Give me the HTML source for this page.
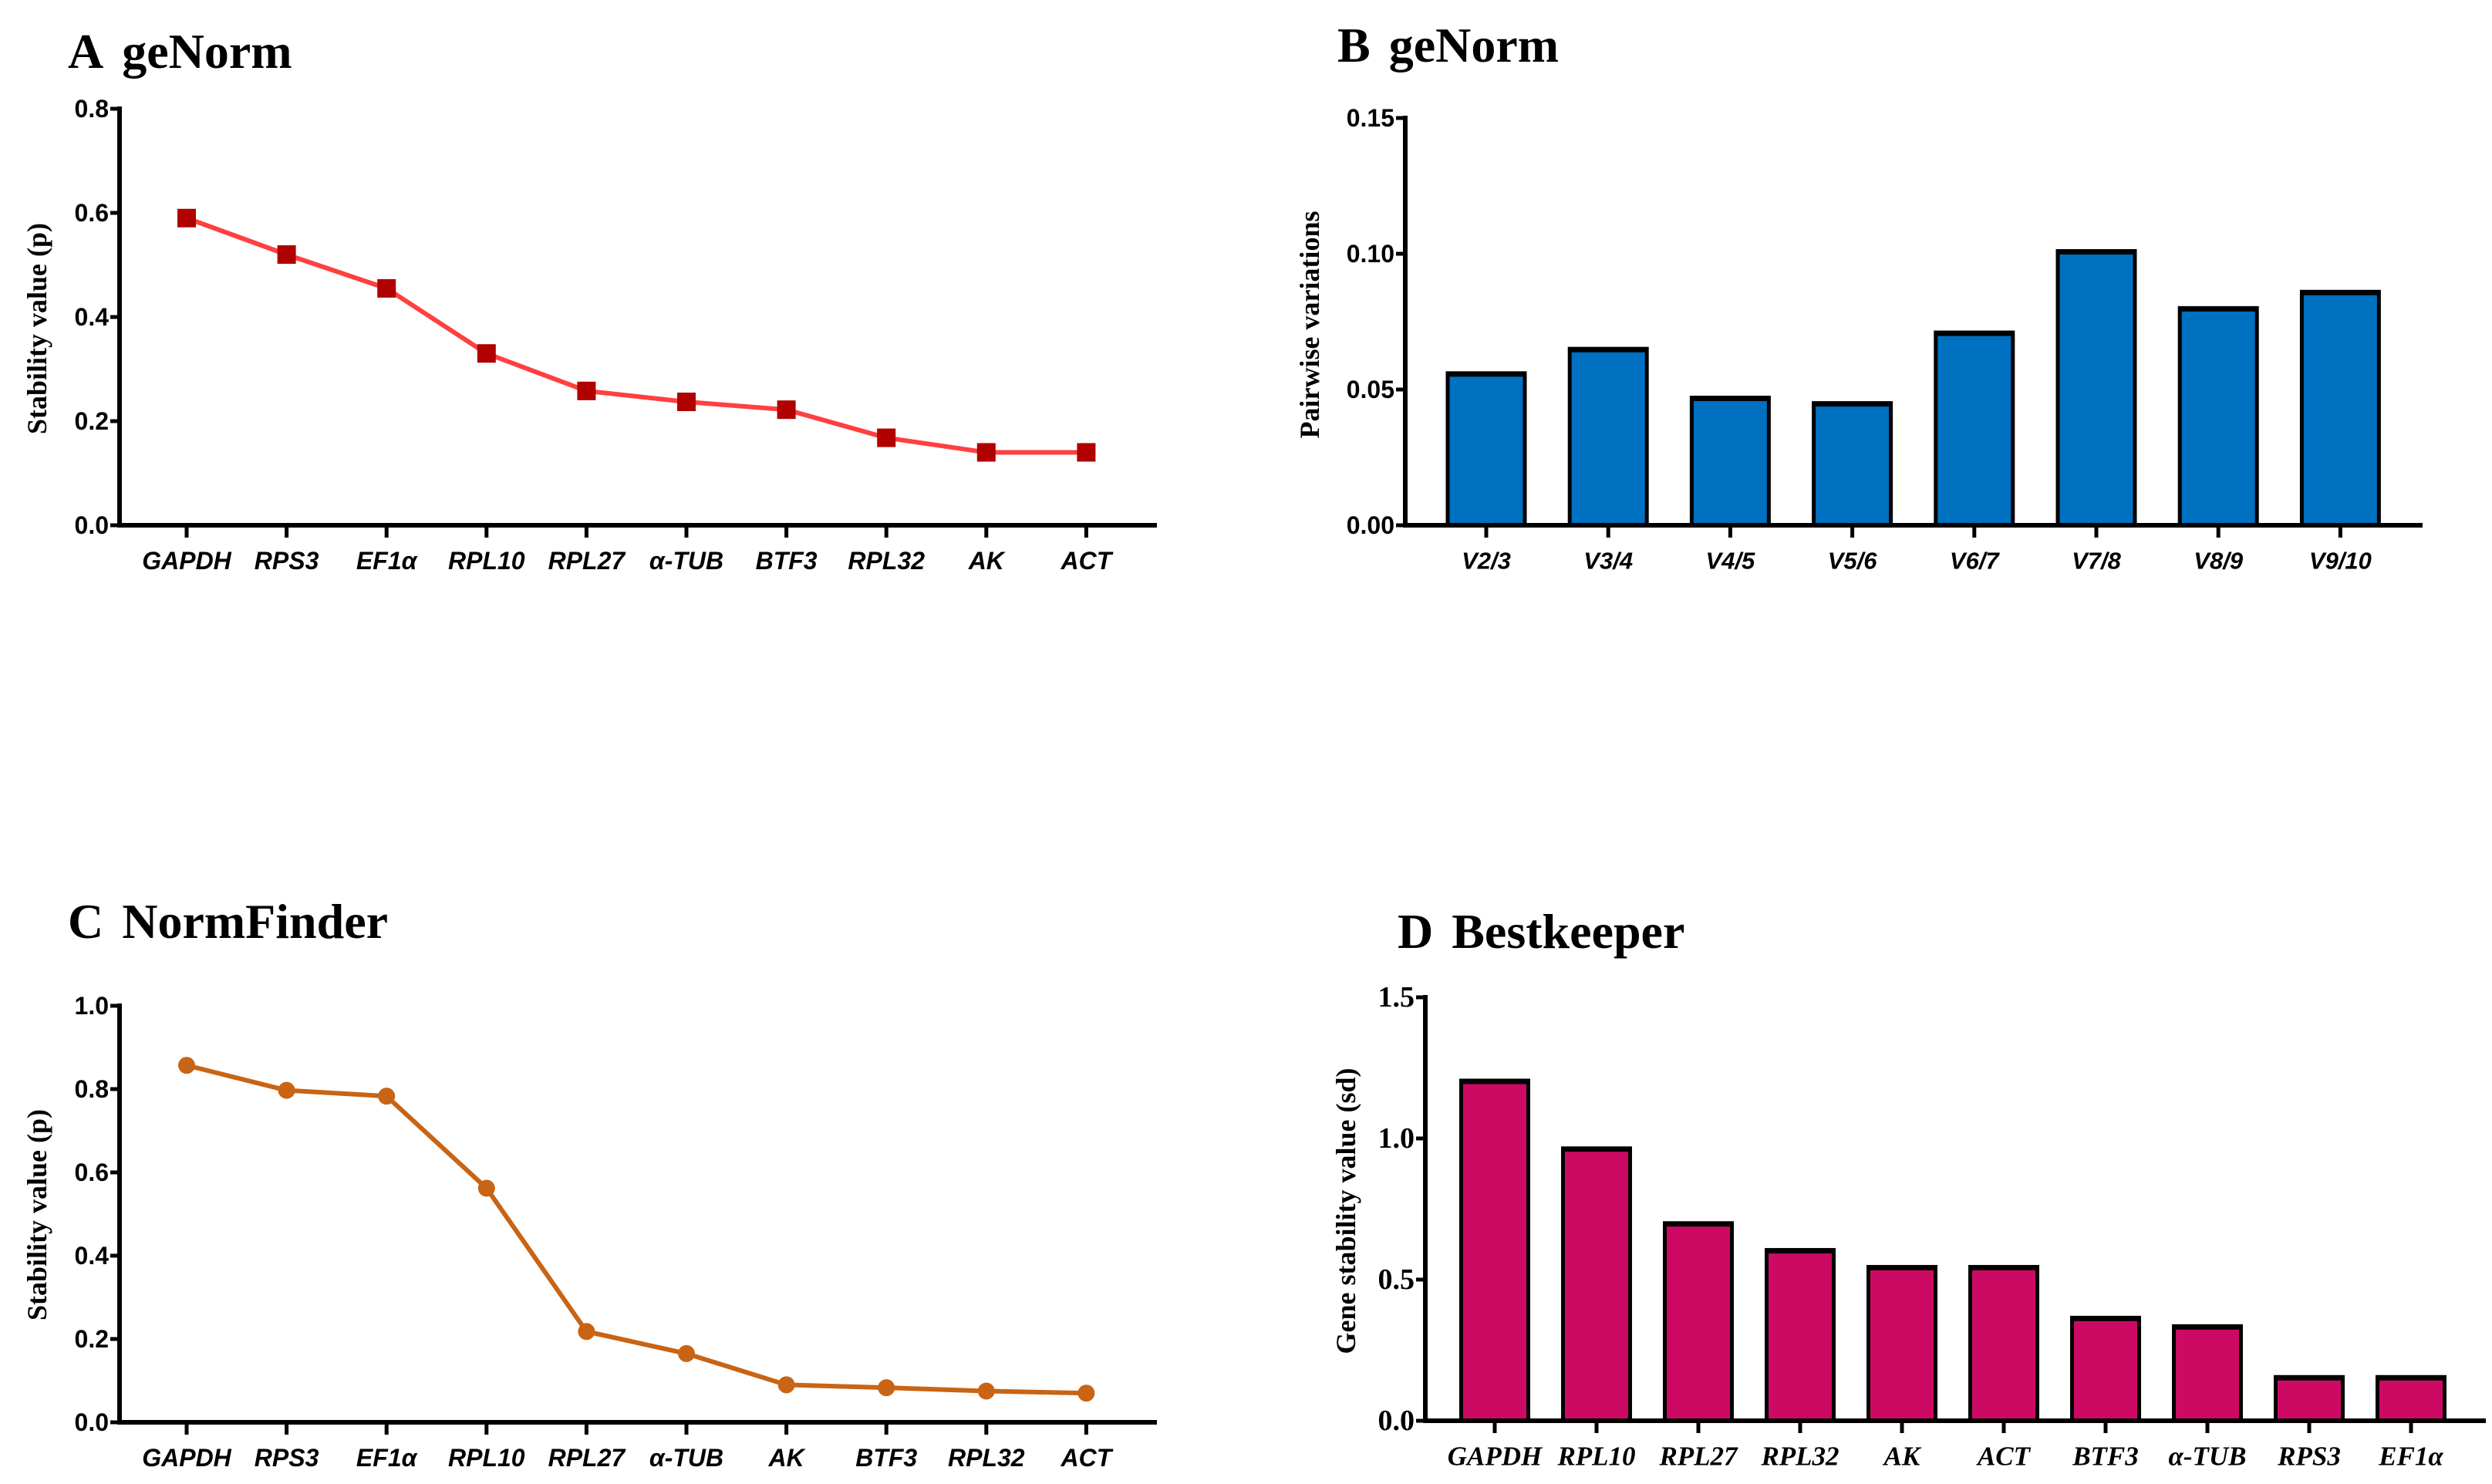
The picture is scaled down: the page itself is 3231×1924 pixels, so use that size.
<!DOCTYPE html>
<html><head><meta charset="utf-8"><style>
html,body{margin:0;padding:0;background:#fff}
svg{display:block}
</style></head><body>
<svg id="fig" width="3231" height="1924" viewBox="0 0 3231 1924" xmlns="http://www.w3.org/2000/svg"></svg>
<script>
const aCats = ["GAPDH","RPS3","EF1α","RPL10","RPL27","α-TUB","BTF3","RPL32","AK","ACT"];
const aVals = [0.59,0.52,0.455,0.33,0.258,0.237,0.222,0.168,0.14,0.14];
const aTicks = ["0.0","0.2","0.4","0.6","0.8"];
const bCats = ["V2/3","V3/4","V4/5","V5/6","V6/7","V7/8","V8/9","V9/10"];
const bVals = [0.056,0.065,0.047,0.045,0.071,0.101,0.080,0.086];
const bTicks = ["0.00","0.05","0.10","0.15"];
const cCats = ["GAPDH","RPS3","EF1α","RPL10","RPL27","α-TUB","AK","BTF3","RPL32","ACT"];
const cVals = [0.857,0.797,0.783,0.562,0.218,0.165,0.09,0.083,0.075,0.07];
const cTicks = ["0.0","0.2","0.4","0.6","0.8","1.0"];
const dCats = ["GAPDH","RPL10","RPL27","RPL32","AK","ACT","BTF3","α-TUB","RPS3","EF1α"];
const dVals = [1.205,0.965,0.70,0.605,0.545,0.545,0.365,0.335,0.155,0.155];
const dTicks = ["0.0","0.5","1.0","1.5"];

const NS="http://www.w3.org/2000/svg";
const svg=document.getElementById('fig');
function mk(tag,attrs,parent,txt){const e=document.createElementNS(NS,tag);for(const k in attrs)e.setAttribute(k,attrs[k]);if(txt!==undefined)e.textContent=txt;(parent||svg).appendChild(e);return e;}

function panel(o){
  const g=mk('g',{});
  
  
  const ymax=parseFloat(o.ticks[o.ticks.length-1]);
  const ys=v=>o.y0-(v/ymax)*(o.y0-o.y1);
  const xs=i=>o.x0+i*o.step;
  const t=mk('text',{x:o.tx,y:o.ty,'font-family':'"Liberation Serif",serif','font-weight':'bold','font-size':64},g);
  
  
  mk('tspan',{},t,o.letter);
  mk('tspan',{dx:24},t,o.title);
  const yt=mk('text',{x:o.ytx,y:o.yty,transform:`rotate(-90 ${o.ytx} ${o.yty})`,'text-anchor':'middle','dominant-baseline':'central','font-family':'"Liberation Serif",serif','font-weight':'bold','font-size':36},g,o.ytitle);
  
  
  if(o.type==='bar'){
    o.vals.forEach((v,i)=>{
      const x=xs(i)-o.bw/2, y=ys(v);
      const r=mk('rect',{x:x,y:y,width:o.bw,height:o.y0-y,fill:o.color,stroke:'#000','stroke-width':5},g);
      
      
      mk('line',{x1:x,x2:x+o.bw,y1:y+2,y2:y+2,stroke:'#000','stroke-width':5},g);
    });
  } else {
    const pts=o.vals.map((v,i)=>xs(i)+','+ys(v)).join(' ');
    const pl=mk('polyline',{points:pts,fill:'none',stroke:o.line,'stroke-width':6},g);
    
    
    o.vals.forEach((v,i)=>{
      let m;
      if(o.marker==='square') m=mk('rect',{x:xs(i)-12,y:ys(v)-12,width:24,height:24,fill:o.color},g);
      else m=mk('circle',{cx:xs(i),cy:ys(v),r:11,fill:o.color},g);
      
      
    });
  }
  const ya=mk('line',{x1:o.ax,x2:o.ax,y1:o.y1-3,y2:o.y0+3,stroke:'#000','stroke-width':6},g);
  
  
  const xa=mk('line',{x1:o.ax-3,x2:o.xend,y1:o.y0,y2:o.y0,stroke:'#000','stroke-width':6},g);
  
  
  o.ticks.forEach(tk=>{
    const y=ys(parseFloat(tk));
    mk('line',{x1:o.ax-12,x2:o.ax,y1:y,y2:y,stroke:'#000','stroke-width':5},g);
    const l=mk('text',{x:o.ax-14,y:y,'text-anchor':'end','dominant-baseline':'central','font-family':o.yfont,'font-weight':'bold','font-size':o.yfs},g,tk);
    
    
  });
  o.cats.forEach((c,i)=>{
    mk('line',{x1:xs(i),x2:xs(i),y1:o.y0,y2:o.y0+16,stroke:'#000','stroke-width':5},g);
    const l=mk('text',{x:xs(i),y:o.y0+46,'text-anchor':'middle','dominant-baseline':'central','font-family':o.xfont,'font-weight':'bold','font-style':'italic','font-size':o.xfs},g,c);
    
    
  });
}
const SANS='"Liberation Sans",sans-serif', SERIF='"Liberation Serif",serif';
panel({name:'panel-a-genorm',letter:'A',title:'geNorm',tx:88,ty:88,ytitle:'Stability value (p)',ytx:48,yty:426,
  type:'line',marker:'square',color:'#b00000',line:'#ff4040',cats:aCats,vals:aVals,ticks:aTicks,
  ax:155,xend:1500,y0:681,y1:141,x0:242,step:129.6,yfont:SANS,yfs:32,xfont:SANS,xfs:32});
panel({name:'panel-b-genorm',letter:'B',title:'geNorm',tx:1734,ty:80,ytitle:'Pairwise variations',ytx:1698,yty:421,
  type:'bar',color:'#0070c0',cats:bCats,vals:bVals,ticks:bTicks,bw:100,
  ax:1822,xend:3141,y0:681,y1:153,x0:1927,step:158.2,yfont:SANS,yfs:32,xfont:SANS,xfs:31});
panel({name:'panel-c-normfinder',letter:'C',title:'NormFinder',tx:88,ty:1216,ytitle:'Stability value (p)',ytx:48,yty:1575,
  type:'line',marker:'circle',color:'#c86414',line:'#c86414',cats:cCats,vals:cVals,ticks:cTicks,
  ax:155,xend:1500,y0:1844,y1:1304,x0:242,step:129.6,yfont:SANS,yfs:32,xfont:SANS,xfs:32});
panel({name:'panel-d-bestkeeper',letter:'D',title:'Bestkeeper',tx:1812,ty:1229,ytitle:'Gene stability value (sd)',ytx:1745,yty:1570,
  type:'bar',color:'#cc0a64',cats:dCats,vals:dVals,ticks:dTicks,bw:87,
  ax:1848,xend:3223,y0:1842,y1:1293,x0:1938,step:132,yfont:SERIF,yfs:38,xfont:SERIF,xfs:35});
</script>
</body></html>
